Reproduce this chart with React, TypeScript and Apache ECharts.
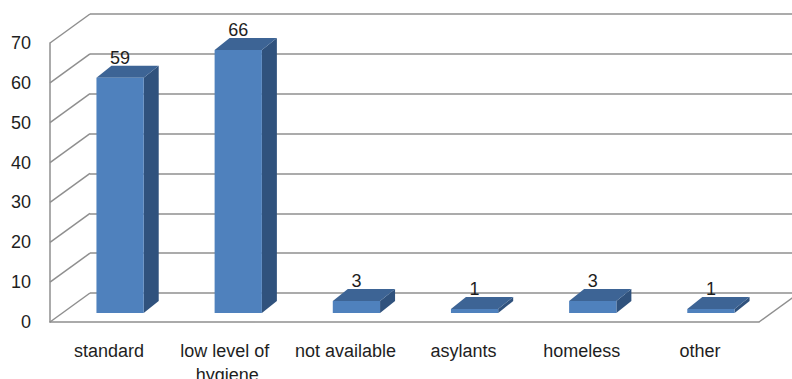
import React, { useEffect, useRef } from "react";
import * as echarts from "echarts";

const categories = ["standard", "low level of hygiene", "not available", "asylants", "homeless", "other"];
const values = [59, 66, 3, 1, 3, 1];
const yTicks = [0, 10, 20, 30, 40, 50, 60, 70];

const DEPTH_X = 40;
const DEPTH_Y = -29;
const BAR_SHIFT_X = 11;
const BAR_SHIFT_Y = -9;
const BAR_DX = 15;
const BAR_DY = -12;
const LINE = "#8f8f8f";
const FONT = "Liberation Sans";
const TEXT = "#1e1e1e";

export default function App() {
  const ref = useRef<HTMLDivElement>(null);
  useEffect(() => {
    if (!ref.current) return;
    const chart = echarts.init(ref.current, undefined, { renderer: "svg" });
    chart.setOption({
      animation: false,
      backgroundColor: "#ffffff",
      grid: [
        { left: 50, right: 33, top: 43, bottom: 57, outerBoundsMode: "none", containLabel: false },
        {
          left: 50 + DEPTH_X,
          right: 0,
          top: 43 + DEPTH_Y,
          bottom: 57 - DEPTH_Y,
          outerBoundsMode: "none",
          containLabel: false,
        },
      ],
      xAxis: [
        {
          type: "category",
          gridIndex: 0,
          data: categories,
          axisLine: { show: true, lineStyle: { color: LINE, width: 1.5 } },
          axisTick: { show: false },
          axisLabel: {
            interval: 0,
            margin: 17,
            width: 105,
            overflow: "break",
            lineHeight: 24,
            fontFamily: FONT,
            fontSize: 18,
            color: TEXT,
          },
        },
        {
          type: "category",
          gridIndex: 1,
          data: categories,
          show: false,
        },
      ],
      yAxis: [
        {
          type: "value",
          gridIndex: 0,
          min: 0,
          max: 70,
          interval: 10,
          axisLine: { show: true, lineStyle: { color: LINE, width: 1.5 } },
          axisTick: { show: false },
          splitLine: { show: false },
          axisLabel: { margin: 19, fontFamily: FONT, fontSize: 18, color: TEXT },
        },
        {
          type: "value",
          gridIndex: 1,
          min: 0,
          max: 70,
          interval: 10,
          axisLine: { show: false },
          axisTick: { show: false },
          axisLabel: { show: false },
          splitLine: { show: true, lineStyle: { color: LINE, width: 1.5 } },
        },
      ],
      series: [
        {
          type: "custom",
          xAxisIndex: 0,
          yAxisIndex: 0,
          clip: false,
          z: 1,
          silent: true,
          data: yTicks.map((t) => [0, t]),
          renderItem: (params: any, api: any) => {
            const v = api.value(1);
            const p = api.coord([0, v]);
            const cs = params.coordSys;
            const x = cs.x;
            const y = p[1];
            const children: any[] = [
              {
                type: "line",
                shape: { x1: x, y1: y, x2: x + DEPTH_X, y2: y + DEPTH_Y },
                style: { stroke: LINE, lineWidth: 1.5 },
              },
            ];
            if (v === 0) {
              const xr = cs.x + cs.width;
              children.push({
                type: "line",
                shape: { x1: xr, y1: y, x2: xr + DEPTH_X, y2: y + DEPTH_Y },
                style: { stroke: LINE, lineWidth: 1.5 },
              });
            }
            return { type: "group", children };
          },
        },
        {
          type: "custom",
          xAxisIndex: 0,
          yAxisIndex: 0,
          clip: false,
          z: 5,
          data: values.map((v, i) => [i, v]),
          renderItem: (params: any, api: any) => {
            const i = api.value(0);
            const v = api.value(1);
            const base = api.coord([i, 0]);
            const top = api.coord([i, v]);
            const band = api.size([1, 0])[0];
            const w = band * 0.4;
            const cx = base[0] + BAR_SHIFT_X;
            const yb = base[1] + BAR_SHIFT_Y;
            const yt = top[1] + BAR_SHIFT_Y;
            const x0 = cx - w / 2;
            const x1 = cx + w / 2;
            return {
              type: "group",
              children: [
                {
                  type: "polygon",
                  shape: {
                    points: [
                      [x1, yt],
                      [x1 + BAR_DX, yt + BAR_DY],
                      [x1 + BAR_DX, yb + BAR_DY],
                      [x1, yb],
                    ],
                  },
                  style: { fill: "#30527d" },
                },
                {
                  type: "polygon",
                  shape: {
                    points: [
                      [x0, yt],
                      [x1, yt],
                      [x1 + BAR_DX, yt + BAR_DY],
                      [x0 + BAR_DX, yt + BAR_DY],
                    ],
                  },
                  style: { fill: "#3d6495" },
                },
                {
                  type: "rect",
                  shape: { x: x0, y: yt, width: w, height: yb - yt },
                  style: { fill: "#4f81bd" },
                },
                {
                  type: "text",
                  x: cx,
                  y: yt - 20,
                  style: {
                    text: String(v),
                    fill: TEXT,
                    fontFamily: FONT,
                    fontSize: 18,
                    align: "center",
                    verticalAlign: "middle",
                  },
                },
              ],
            };
          },
        },
      ],
    });
    return () => chart.dispose();
  }, []);
  return (
    <div
      ref={ref}
      style={{ position: "absolute", left: 0, top: 0, width: 792, height: 379, background: "#fff" }}
    />
  );
}
